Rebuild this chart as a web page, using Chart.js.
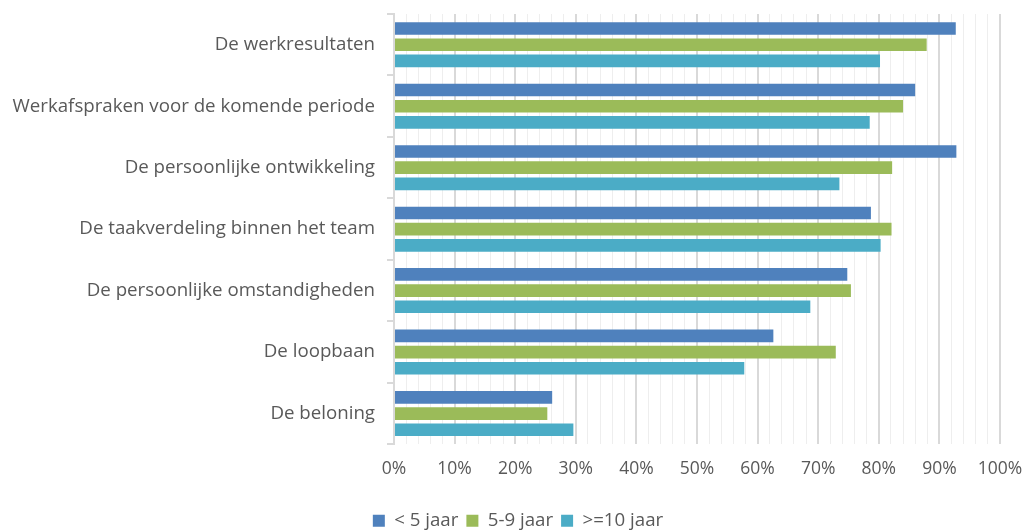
<!DOCTYPE html>
<html>
<head>
<meta charset="utf-8">
<script src="https://cdn.jsdelivr.net/npm/chart.js@4/dist/chart.umd.min.js"></script>
<style>
html,body{margin:0;padding:0;background:#fff;}
#wrap{width:1026px;height:530px;position:relative;}
</style>
</head>
<body>
<div id="wrap"><canvas id="c" width="1026" height="530"></canvas></div>
<script>
const categories = [
  "De werkresultaten",
  "Werkafspraken voor de komende periode",
  "De persoonlijke ontwikkeling",
  "De taakverdeling binnen het team",
  "De persoonlijke omstandigheden",
  "De loopbaan",
  "De beloning"
];
const seriesNames = ["< 5 jaar", "5-9 jaar", ">=10 jaar"];
const lessThan5 = [92.7, 86.0, 92.8, 78.7, 74.8, 62.6, 26.1];
const from5to9 = [87.9, 84.0, 82.2, 82.1, 75.4, 72.9, 25.3];
const tenPlus = [80.2, 78.5, 73.5, 80.3, 68.7, 57.8, 29.6];
const colors = ["#4f81bd", "#9bbb59", "#4bacc6"];

const FONT = "'Open Sans', 'Liberation Sans', sans-serif";
const TEXT = "#595959";

const legendShift = {
  id: 'legendShift',
  afterLayout(chart) {
    const l = chart.legend;
    if (l) { l.top += 10; l.bottom += 10; l.left += 18; l.right += 18; }
  }
};

new Chart(document.getElementById('c'), {
  type: 'bar',
  data: {
    labels: categories,
    datasets: [lessThan5, from5to9, tenPlus].map((d, i) => ({
      label: seriesNames[i],
      data: d,
      backgroundColor: colors[i],
      borderWidth: 0,
      categoryPercentage: 0.79,
      barPercentage: 0.78
    }))
  },
  plugins: [legendShift],
  options: {
    indexAxis: 'y',
    responsive: false,
    animation: false,
    layout: { padding: { top: 14, right: 26, left: 0, bottom: 0 } },
    plugins: {
      legend: {
        position: 'bottom',
        labels: {
          color: TEXT,
          font: { family: FONT, size: 18.7 },
          boxWidth: 12,
          boxHeight: 12,
          padding: 8
        }
      },
      tooltip: { enabled: false }
    },
    scales: {
      x: {
        min: 0,
        max: 100,
        afterFit: s => { s.paddingLeft = 0; s.paddingRight = 0; s.height = 49; },
        ticks: {
          stepSize: 2,
          autoSkip: false,
          maxRotation: 0,
          color: TEXT,
          font: { family: FONT, size: 17.5 },
          padding: 14,
          callback: v => (v % 10 === 0 ? v + '%' : '')
        },
        grid: {
          drawTicks: false,
          color: ctx => (ctx.tick && ctx.tick.value % 10 === 0 ? '#d9d9d9' : '#eeeeee'),
          lineWidth: ctx => (ctx.tick && ctx.tick.value % 10 === 0 ? 2 : 1)
        },
        border: { display: false }
      },
      y: {
        afterFit: s => { s.width = 394; s.paddingTop = 0; s.paddingBottom = 0; },
        ticks: {
          color: TEXT,
          font: { family: FONT, size: 18.7 },
          padding: 12
        },
        grid: {
          drawOnChartArea: false,
          drawTicks: true,
          tickLength: 7,
          color: '#d9d9d9',
          lineWidth: 2
        },
        border: { display: true, color: '#d9d9d9', width: 2 }
      }
    }
  }
});
</script>
</body>
</html>
